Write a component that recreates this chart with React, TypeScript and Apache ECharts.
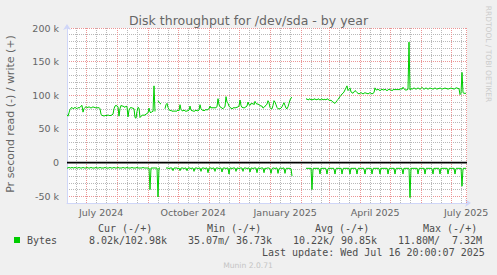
import React, { useEffect, useRef } from "react";
import * as echarts from "echarts";

const TITLE = "Disk throughput for /dev/sda - by year";
const Y_NAME = "Pr second read (-) / write (+)";
const WATERMARK = "RRDTOOL / TOBI OETIKER";
const FOOTER = "Munin 2.0.71";
const LAST_UPDATE = "Last update: Wed Jul 16 20:00:07 2025";

// x axis: days since the start of the 400-day window
const START_UTC = Date.UTC(2024, 5, 11, 20, 0, 7);
const SPAN_DAYS = 400;
const X_LABELS = ["July 2024", "October 2024", "January 2025", "April 2025", "July 2025"];
const X_LABEL_DATES: number[][] = [
  [2024, 6, 16],
  [2024, 9, 16],
  [2025, 0, 16],
  [2025, 3, 16],
  [2025, 6, 16],
];
const Y_MIN = -60;
const Y_MAX = 200;
const Y_STEP = 10;
const Y_LABELLED = [-50, 0, 50, 100, 150, 200];

// write (+), k bytes/s, one value per day
const WRITE_K: (number | null)[] = [
  71, 69, 74, 79, 81, 82, 80, 81, 82, 81,
  80, 82, 81, 82, 84, 85, 75, 80, 82, 83,
  82, 82, 83, 82, 81, 82, 83, 82, 82, 81,
  82, 81, 82, 80, 72, 70, 70, 69, 70, 70,
  70, 71, 70, 70, 70, 71, 72, 80, 84, 85,
  84, 83, 69, 80, 85, 84, 84, 83, 82, 84,
  83, 68, 78, 81, 82, 81, 81, 80, 67, 66,
  76, 82, 81, 67, 69, 70, 71, 70, 71, 72,
  73, 74, 81, 75, 74, 76, 76, 114, 76, null,
  null, 92, 90, 88, 87, null, null, null, 80, 86,
  88, 82, 79, 77, 78, 76, 77, 76, 77, 76,
  77, 78, 77, 86, 79, 77, 77, 78, 77, 76,
  77, 77, 78, 84, 78, 77, 77, 76, 77, 78,
  77, 77, 78, 86, 80, 78, 78, 77, 78, 79,
  78, 79, 80, 84, 81, 82, 81, 82, 81, 82,
  83, 95, 86, 83, 82, 81, 80, 82, 83, 98,
  90, 88, 84, 82, 81, 80, 81, 82, 81, 82,
  82, 83, 84, 93, 85, 82, 82, 81, 82, 83,
  84, 90, 86, 85, 88, 87, 88, 86, 91, 88,
  87, 87, 86, 85, 84, 84, 81, 82, 84, 85,
  87, 92, 89, 82, 80, 80, 85, 92, 90, 86,
  82, 80, 80, 80, 81, 83, 86, 89, 85, 81,
  80, 83, 88, 93, 96, 97, null, null, null, null,
  null, null, null, null, null, null, null, null, null, 94,
  95, 93, 94, 95, 93, 94, 93, 95, 94, 94,
  93, 95, 94, 93, 94, 95, 93, 94, 94, 93,
  95, 94, 93, 92, 93, 91, 90, 89, 88, 90,
  92, 94, 96, 98, 100, 102, 103, 105, 108, 111,
  114, 107, 109, 111, 105, 104, 103, 105, 107, 106,
  104, 103, 102, 103, 104, 103, 102, 103, 104, 103,
  103, 102, 103, 104, 103, 102, 103, 104, 111, 108,
  108, 109, 108, 107, 108, 109, 108, 108, 109, 108,
  107, 108, 109, 108, 108, 107, 108, 109, 108, 109,
  108, 109, 108, 109, 110, 109, 112, 110, 108, 108,
  108, 109, 179, 108, 110, 109, 110, 111, 110, 109,
  110, 111, 110, 109, 110, 112, 110, 109, 110, 111,
  110, 109, 110, 111, 110, 110, 109, 110, 111, 110,
  109, 110, 110, 111, 110, 109, 110, 110, 111, 110,
  110, 109, 110, 110, 111, 110, 110, 109, 110, 111,
  111, 110, 110, 101, 103, 134, 104, 103, 103, 103,
];

// read (-), k bytes/s, one value per day
const READ_K: (number | null)[] = [
  -8, -8, -7, -8, -8, -7, -8, -8, -7, -8,
  -8, -8, -7, -8, -8, -8, -7, -8, -8, -8,
  -7, -8, -8, -8, -7, -8, -8, -8, -8, -7,
  -8, -8, -8, -7, -8, -8, -8, -8, -7, -8,
  -8, -8, -8, -7, -8, -8, -8, -7, -8, -8,
  -8, -7, -8, -8, -8, -8, -7, -8, -8, -8,
  -7, -8, -8, -8, -8, -7, -8, -8, -8, -8,
  -7, -8, -8, -8, -8, -8, -7, -8, -8, -8,
  -8, -8, -8, -40, -8, -8, -8, -8, -8, -8,
  -8, -51, -8, -8, null, null, null, null, null, -8,
  -8, -8, -9, -8, -8, -8, -12, -8, -8, -8,
  -8, -9, -8, -12, -8, -8, -8, -9, -8, -8,
  -12, -8, -8, -8, -9, -8, -8, -13, -8, -8,
  -8, -9, -8, -8, -13, -8, -8, -8, -9, -8,
  -8, -15, -8, -8, -8, -9, -8, -8, -13, -8,
  -8, -8, -9, -8, -8, -14, -8, -8, -8, -9,
  -8, -8, -17, -8, -8, -9, -8, -8, -8, -13,
  -8, -8, -9, -8, -8, -8, -13, -8, -8, -8,
  -9, -8, -8, -14, -8, -8, -9, -8, -8, -8,
  -15, -8, -8, -9, -8, -8, -8, -15, -8, -9,
  -8, -8, -8, -9, -16, -9, -8, -8, -9, -8,
  -8, -16, -9, -8, -8, -9, -8, -8, -16, -9,
  -8, -9, -8, -9, -9, -20, null, null, null, null,
  null, null, null, null, null, null, null, null, null, -9,
  -8, -9, -8, -9, -8, -40, -9, -8, -9, -8,
  -9, -8, -9, -17, -8, -9, -8, -9, -8, -9,
  -17, -9, -8, -9, -8, -9, -8, -9, -17, -9,
  -8, -9, -8, -9, -8, -17, -9, -8, -9, -8,
  -9, -8, -9, -17, -8, -9, -8, -9, -8, -9,
  -17, -9, -8, -9, -8, -9, -8, -9, -17, -9,
  -8, -9, -8, -9, -8, -17, -9, -8, -9, -8,
  -9, -8, -9, -17, -8, -9, -8, -9, -8, -9,
  -8, -17, -9, -8, -9, -8, -9, -8, -17, -9,
  -8, -9, -8, -9, -8, -9, -17, -8, -9, -8,
  -9, -8, -9, -52, -8, -9, -8, -9, -8, -9,
  -8, -17, -9, -8, -9, -8, -9, -8, -17, -9,
  -8, -9, -8, -9, -8, -9, -17, -8, -9, -8,
  -9, -8, -9, -17, -8, -9, -8, -9, -8, -9,
  -8, -17, -9, -8, -9, -8, -9, -8, -17, -9,
  -8, -9, -8, -9, -8, -35, -9, -8, -9, -8,
];

const LEGEND_NAME = "Bytes";
const LEGEND_HEADERS = ["Cur (-/+)", "Min (-/+)", "Avg (-/+)", "Max (-/+)"];
const LEGEND_READ = ["8.02k/", "35.07m/", "10.22k/", "11.80M/"];
const LEGEND_WRITE = ["102.98k", "36.73k", "90.85k", "7.32M"];

const GREEN = "#00CC00";
const MAJOR = "#eb9595";
const MINOR = "#b8b8b8";
const AXIS = "#CFD6F8";
const FONT_C = "#666666";
const LEG_C = "#4d4d4d";
const SANS = '"DejaVu Sans", sans-serif';
const MONO = '"DejaVu Sans Mono", monospace';

const dayOf = (y: number, m: number, d: number) => (Date.UTC(y, m, d) - START_UTC) / 86400000;

export default function App() {
  const ref = useRef<HTMLDivElement>(null);
  useEffect(() => {
    if (!ref.current) return;
    const chart = echarts.init(ref.current, null, { renderer: "svg" });

    const labelDays = X_LABEL_DATES.map(([y, m, d]) => dayOf(y, m, d));
    const majorDays: number[] = [];
    const minorDays: number[] = [];
    for (let k = 0; k < 15; k++) {
      const y = 2024 + Math.floor((5 + k) / 12);
      const m = (5 + k) % 12;
      const d1 = dayOf(y, m, 1);
      if (d1 > 0 && d1 < SPAN_DAYS) majorDays.push(d1);
      [11, 21].forEach((dd) => {
        const v = dayOf(y, m, dd);
        if (v > 0 && v < SPAN_DAYS) minorDays.push(v);
      });
    }

    // snap a grid day onto a pixel column centre
    const snap = (d: number) => Math.floor(d) + 0.5;
    const gridLine = (d: number, color: string) => ({
      type: "line",
      data: [
        [d, Y_MIN],
        [d, Y_MAX],
      ],
      showSymbol: false,
      silent: true,
      z: 1,
      lineStyle: { color, width: 1, type: [1, 1] },
      emphasis: { disabled: true },
    });

    const txt = (
      x: number, y: number, text: string, font: string, fill: string,
      align = "left", rotation = 0
    ) => ({
      type: "text", x, y, rotation, silent: true,
      style: { text, font, fill, align, verticalAlign: "middle", textAlign: align, textVerticalAlign: "middle" },
    });

    const graphics: any[] = [
      txt(248.5, 20, TITLE, `12.5px ${SANS}`, FONT_C, "center"),
      txt(10, 114, Y_NAME, `11px ${SANS}`, FONT_C, "center", Math.PI / 2),
      txt(488, 54, WATERMARK, `7.5px ${SANS}`, "#cccccc", "center", -Math.PI / 2),
      txt(248, 265, FOOTER, `7.6px ${SANS}`, "#c4c4c4", "center"),
      { type: "rect", shape: { x: 14, y: 237, width: 6, height: 6 }, style: { fill: GREEN }, silent: true },
      txt(27, 240.5, LEGEND_NAME, `10px ${MONO}`, LEG_C),
      txt(262, 252, LAST_UPDATE, `10px ${MONO}`, LEG_C),
    ];
    const headLeft = [98, 207, 315, 423];
    const readLeft = [89, 188, 293, 398];
    const writeRight = [167, 272, 377, 482];
    LEGEND_HEADERS.forEach((h, i) => graphics.push(txt(headLeft[i], 228.5, h, `10px ${MONO}`, LEG_C)));
    LEGEND_READ.forEach((r, i) => graphics.push(txt(readLeft[i], 240.5, r, `10px ${MONO}`, LEG_C)));
    LEGEND_WRITE.forEach((w, i) => graphics.push(txt(writeRight[i], 240.5, w, `10px ${MONO}`, LEG_C, "right")));

    const gridSeries = [
      ...minorDays.map((d) => gridLine(snap(d), MINOR)),
      ...majorDays.map((d) => gridLine(snap(d), MAJOR)),
      gridLine(SPAN_DAYS - 0.5, MAJOR),
    ];

    chart.setOption({
      animation: false,
      backgroundColor: "#F0F0F0",
      grid: { left: 67, top: 28, width: 400, height: 175, backgroundColor: "#FFFFFF", show: true, borderWidth: 0 },
      xAxis: {
        type: "value",
        min: 0,
        max: SPAN_DAYS,
        splitLine: { show: false },
        axisTick: { show: false },
        axisLine: {
          show: true,
          onZero: false,
          lineStyle: { color: AXIS, width: 1 },
          symbol: ["none", "arrow"],
          symbolSize: [6, 6],
          symbolOffset: [0, 4],
        },
        axisLabel: {
          customValues: labelDays,
          formatter: (v: number) => {
            let best = 0;
            labelDays.forEach((d, i) => {
              if (Math.abs(d - v) < Math.abs(labelDays[best] - v)) best = i;
            });
            return X_LABELS[best];
          },
          color: FONT_C,
          fontSize: 9.5,
          fontFamily: SANS,
          margin: 4,
          hideOverlap: false,
          showMinLabel: true,
          showMaxLabel: true,
        },
      },
      yAxis: {
        type: "value",
        min: Y_MIN,
        max: Y_MAX,
        interval: Y_STEP,
        axisTick: { show: false },
        axisLine: {
          show: true,
          onZero: false,
          lineStyle: { color: AXIS, width: 1 },
          symbol: ["none", "arrow"],
          symbolSize: [6, 6],
          symbolOffset: [0, 4],
        },
        axisLabel: {
          formatter: (v: number) => (Y_LABELLED.includes(v) ? (v === 0 ? "0" : `${v} k`) : ""),
          color: FONT_C,
          fontSize: 9.5,
          fontFamily: SANS,
          margin: 8,
        },
        splitLine: {
          show: true,
          lineStyle: { color: [MINOR, MAJOR, MINOR, MINOR, MINOR], type: [1, 1], width: 1 },
        },
      },
      series: [
        ...gridSeries,
        {
          type: "line",
          data: [
            [0, 0],
            [SPAN_DAYS, 0],
          ],
          showSymbol: false,
          silent: true,
          z: 2,
          lineStyle: { color: "#000000", width: 1.6 },
          emphasis: { disabled: true },
        },
        {
          name: "write",
          type: "line",
          z: 3,
          data: WRITE_K.map((v, i) => [i, v]),
          showSymbol: false,
          connectNulls: false,
          lineStyle: { color: GREEN, width: 1 },
          itemStyle: { color: GREEN },
          silent: true,
          emphasis: { disabled: true },
        },
        {
          name: "read",
          type: "line",
          z: 3,
          data: READ_K.map((v, i) => [i, v]),
          showSymbol: false,
          connectNulls: false,
          lineStyle: { color: GREEN, width: 1 },
          itemStyle: { color: GREEN },
          silent: true,
          emphasis: { disabled: true },
        },
      ],
      graphic: graphics,
    });
    return () => chart.dispose();
  }, []);
  return <div ref={ref} style={{ position: "fixed", left: 0, top: 0, width: 497, height: 275 }} />;
}
